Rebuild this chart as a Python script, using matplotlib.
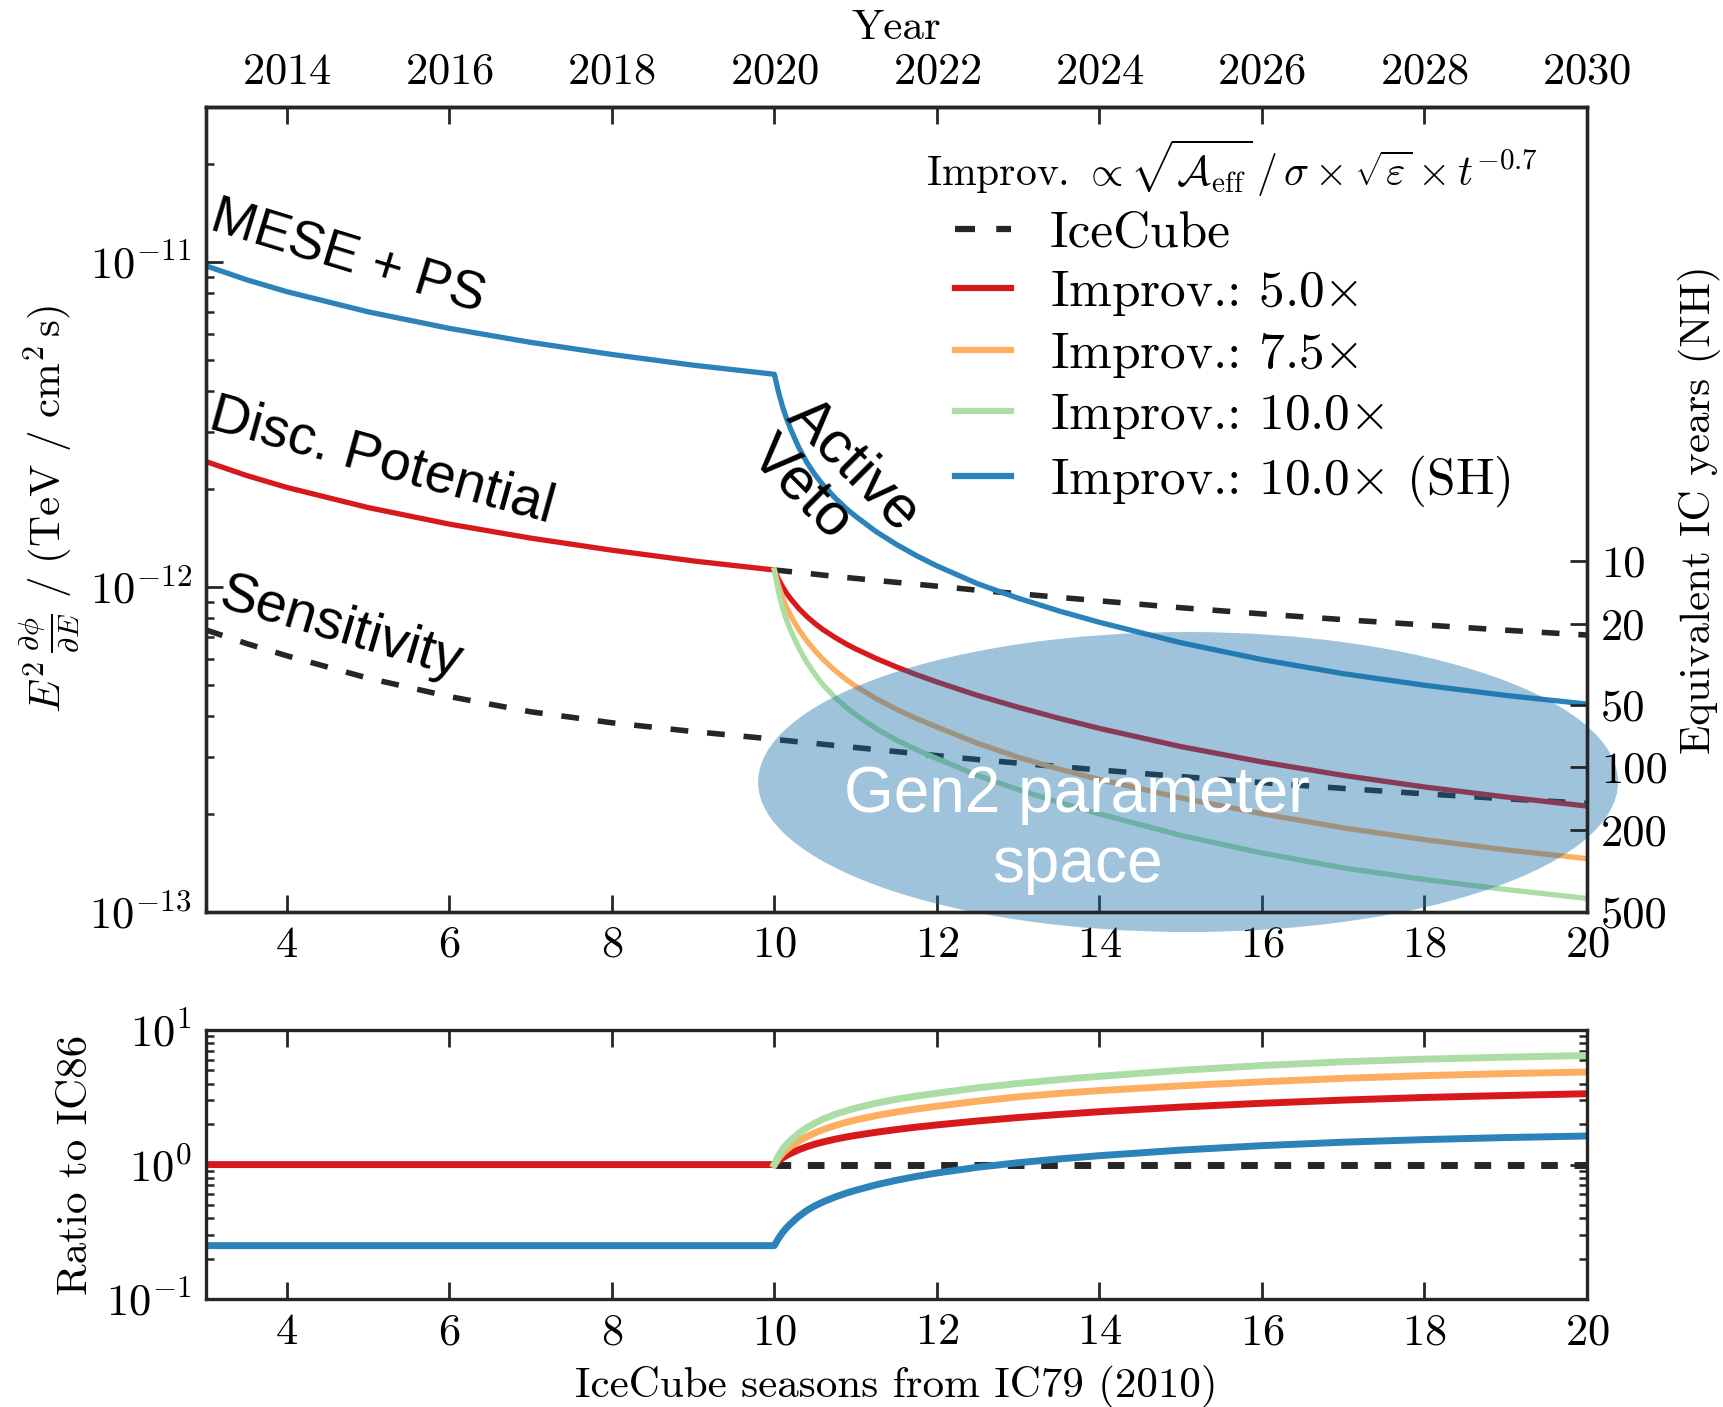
import numpy as np
import matplotlib
matplotlib.use('Agg')
import matplotlib.pyplot as plt
from matplotlib.patches import Ellipse
from matplotlib.ticker import NullLocator

# IceCube seasons counted from IC79 (2010)
seasons_pre = [3, 3.5, 4, 5, 6, 7, 8, 9]
seasons_gen2 = [10, 10.05, 10.1, 10.15, 10.2, 10.3, 10.4, 10.5, 10.6, 10.75,
                10.9, 11, 11.25, 11.5, 11.75, 12, 12.5, 13, 13.5, 14, 15, 16,
                17, 18, 19, 20]

# E^2 dphi/dE in TeV / cm^2 s (x 1e-12)
icecube_disc = [2.432, 2.203, 2.023, 1.754, 1.560, 1.413, 1.297, 1.202,
                1.127, 1.124, 1.121, 1.117, 1.114, 1.107, 1.101, 1.094, 1.087,
                1.078, 1.068, 1.062, 1.047, 1.033, 1.019, 1.005, 0.977, 0.953,
                0.929, 0.906, 0.863, 0.826, 0.793, 0.764, 0.736, 0.711]
icecube_sens = [0.738, 0.670, 0.614, 0.524, 0.460, 0.413, 0.382, 0.359,
                0.340, 0.3386, 0.3377, 0.3367, 0.3357, 0.3338, 0.3319, 0.3300,
                0.3281, 0.3252, 0.3225, 0.3206, 0.3161, 0.3115, 0.3071, 0.3027,
                0.2944, 0.2871, 0.2802, 0.2735, 0.261, 0.250, 0.240, 0.231,
                0.223, 0.216]

# ratio to IC86 (lower panel)
ratio_5p0 = [1.0, 1.0, 1.0, 1.0, 1.0, 1.0, 1.0, 1.0,
             1.000, 1.064, 1.119, 1.168, 1.211, 1.289, 1.358, 1.418, 1.472,
             1.544, 1.608, 1.647, 1.737, 1.820, 1.898, 1.970, 2.107, 2.235,
             2.355, 2.468, 2.673, 2.853, 3.013, 3.151, 3.258, 3.358]
ratio_7p5 = [1.000, 1.111, 1.207, 1.290, 1.364, 1.496, 1.614, 1.719, 1.818,
             1.952, 2.073, 2.145, 2.308, 2.455, 2.589, 2.710, 2.957, 3.184,
             3.374, 3.543, 3.845, 4.118, 4.369, 4.576, 4.737, 4.870]
ratio_10p0 = [1.000, 1.160, 1.296, 1.411, 1.516, 1.705, 1.878, 2.033, 2.176,
              2.363, 2.524, 2.625, 2.855, 3.054, 3.229, 3.389, 3.711, 4.004,
              4.271, 4.522, 5.013, 5.437, 5.801, 6.068, 6.274, 6.457]
ratio_sh = [0.25, 0.25, 0.25, 0.25, 0.25, 0.25, 0.25, 0.25,
            0.250, 0.282, 0.312, 0.339, 0.364, 0.412, 0.456, 0.494, 0.528,
            0.575, 0.618, 0.644, 0.707, 0.764, 0.817, 0.866, 0.955, 1.032,
            1.101, 1.164, 1.281, 1.382, 1.466, 1.533, 1.587, 1.630]

season_ticks = [4, 6, 8, 10, 12, 14, 16, 18, 20]
year_ticks = [2014, 2016, 2018, 2020, 2022, 2024, 2026, 2028, 2030]
flux_ticks = [1e-13, 1e-12, 1e-11]
flux_labels = [r'$10^{-13}$', r'$10^{-12}$', r'$10^{-11}$']
ratio_ticks = [0.1, 1, 10]
ratio_labels = [r'$10^{-1}$', r'$10^{0}$', r'$10^{1}$']
ic_years_labels = ['10', '20', '50', '100', '200', '500']
ic_years_flux = [1.20e-12, 7.70e-13, 4.32e-13, 2.79e-13, 1.79e-13, 1.0e-13]

RED, ORANGE, GREEN, BLUE = '#d7191c', '#fdae61', '#abdda4', '#2b83ba'
DARK = '#262626'


def style_spines(a):
    for s in a.spines.values():
        s.set_linewidth(2.4)
        s.set_color(DARK)


def main():
    plt.rcParams['font.family'] = ['cmr10', 'DejaVu Serif']
    plt.rcParams['mathtext.fontset'] = 'cm'
    plt.rcParams['axes.formatter.use_mathtext'] = True
    plt.rcParams['axes.unicode_minus'] = False

    t = np.array(seasons_pre + seasons_gen2)
    t2 = np.array(seasons_gen2)
    n_pre = len(seasons_pre)
    disc = np.array(icecube_disc) * 1e-12
    sens = np.array(icecube_sens) * 1e-12
    disc2 = disc[n_pre:]
    r5 = np.array(ratio_5p0)
    r75 = np.array(ratio_7p5)
    r10 = np.array(ratio_10p0)
    rsh = np.array(ratio_sh)

    fig = plt.figure(figsize=(17.23, 14.07), dpi=100)
    ax = fig.add_axes([0.1193, 0.3518, 0.8017, 0.5724])
    axr = fig.add_axes([0.1193, 0.0766, 0.8017, 0.1914])

    lw = 3.8
    dash = (3.2, 3.4)
    ax.plot(t2, disc2, color=DARK, lw=4, dashes=dash, label='IceCube')
    ax.plot(t, sens, color=DARK, lw=4, dashes=dash)
    ax.plot(t, disc / r5, color=RED, lw=lw, label=r'Improv.: 5.0$\times$')
    ax.plot(t2, disc2 / r75, color=ORANGE, lw=lw, label=r'Improv.: 7.5$\times$')
    ax.plot(t2, disc2 / r10, color=GREEN, lw=lw, label=r'Improv.: 10.0$\times$')
    ax.plot(t, disc / rsh, color=BLUE, lw=lw, label=r'Improv.: 10.0$\times$ (SH)')

    ax.set_yscale('log')
    ax.set_xlim(3, 20)
    ax.set_ylim(1e-13, 3e-11)
    ax.set_xticks(season_ticks)
    ax.set_yticks(flux_ticks)
    ax.set_yticklabels(flux_labels)
    ax.xaxis.set_minor_locator(NullLocator())
    ax.tick_params(which='major', direction='in', length=12, width=2,
                   labelsize=32, pad=10, top=False, right=False, color=DARK)
    ax.tick_params(axis='y', which='minor', direction='in', length=6,
                   width=1.8, right=False, color=DARK)
    ax.set_ylabel(r'$E^2\,\frac{\partial\phi}{\partial E}\ /\ (\mathrm{TeV}\ /\ \mathrm{cm}^2\,\mathrm{s})$',
                  fontsize=31)
    ax.yaxis.set_label_coords(-0.090, 0.5)
    style_spines(ax)

    leg = ax.legend(loc='upper right', bbox_to_anchor=(0.965, 0.962),
                    frameon=False, fontsize=37, borderaxespad=0, borderpad=0,
                    title=r'Improv. $\propto \sqrt{\mathcal{A}_\mathrm{eff}}\,/\,\sigma \times \sqrt{\varepsilon} \times t^{-0.7}$',
                    title_fontsize=30, handlelength=1.1, handletextpad=0.75,
                    labelspacing=0.24)
    for h in leg.legend_handles:
        h.set_linewidth(4.5)

    # Gen2 blob
    ell = Ellipse((0.7113, 0.1614), 0.6226, 0.3725, transform=ax.transAxes,
                  facecolor='#196eaa', alpha=0.41, edgecolor='none',
                  clip_on=False, zorder=10)
    ax.add_patch(ell)
    ax.text(0.631, 0.102, 'Gen2 parameter\nspace', transform=ax.transAxes,
            color='white', fontsize=46, ha='center', va='center',
            family='Liberation Sans', linespacing=1.22, zorder=11)

    sans = dict(transform=ax.transAxes, ha='center', va='center',
                rotation_mode='anchor', family='Liberation Sans', zorder=12)
    ax.text(0.103, 0.812, 'MESE + PS', rotation=-17, fontsize=38.5, **sans)
    ax.text(0.128, 0.559, 'Disc. Potential', rotation=-15.5, fontsize=40, **sans)
    ax.text(0.098, 0.352, 'Sensitivity', rotation=-16.5, fontsize=40, **sans)
    ax.text(0.456, 0.531, 'Active\nVeto', rotation=-45, fontsize=43,
            multialignment='left', linespacing=0.95, **sans)

    # year axis on top
    sec = ax.secondary_xaxis('top', functions=(lambda s: s + 2010,
                                               lambda y: y - 2010))
    sec.set_xticks(year_ticks)
    sec.tick_params(direction='in', length=12, width=2, labelsize=32, pad=10,
                    color=DARK)
    sec.set_xlabel('Year', fontsize=31, labelpad=10)
    style_spines(sec)

    # equivalent IceCube years on the right
    ax2 = ax.twinx()
    ax2.set_yscale('log')
    ax2.set_ylim(ax.get_ylim())
    ax2.set_yticks(ic_years_flux)
    ax2.set_yticklabels(ic_years_labels)
    ax2.yaxis.set_minor_locator(NullLocator())
    ax2.tick_params(axis='y', direction='in', length=12, width=2,
                    labelsize=32, pad=10, color=DARK)
    ax2.set_ylabel('Equivalent IC years (NH)', fontsize=31)
    ax2.yaxis.set_label_coords(1.066, 0.5)
    style_spines(ax2)

    # ratio panel
    lwr = 5.0
    axr.plot(t2, disc2 / disc2, color=DARK, lw=5.0, dashes=(2.4, 2.4))
    axr.plot(t, r5, color=RED, lw=lwr)
    axr.plot(t2, r75, color=ORANGE, lw=lwr)
    axr.plot(t2, r10, color=GREEN, lw=lwr)
    axr.plot(t, rsh, color=BLUE, lw=lwr)
    axr.set_yscale('log')
    axr.set_xlim(3, 20)
    axr.set_ylim(0.1, 10)
    axr.set_xticks(season_ticks)
    axr.set_yticks(ratio_ticks)
    axr.set_yticklabels(ratio_labels)
    axr.xaxis.set_minor_locator(NullLocator())
    axr.tick_params(which='major', direction='in', length=12, width=2,
                    labelsize=32, pad=10, top=True, right=True, color=DARK)
    axr.tick_params(axis='y', which='minor', direction='in', length=6,
                    width=1.8, left=True, right=True, color=DARK)
    axr.set_ylabel('Ratio to IC86', fontsize=31)
    axr.yaxis.set_label_coords(-0.080, 0.5)
    axr.set_xlabel('IceCube seasons from IC79 (2010)', fontsize=31)
    axr.xaxis.set_label_coords(0.5, -0.245)
    style_spines(axr)

    fig.savefig('out.png', dpi=100)


if __name__ == '__main__':
    main()
